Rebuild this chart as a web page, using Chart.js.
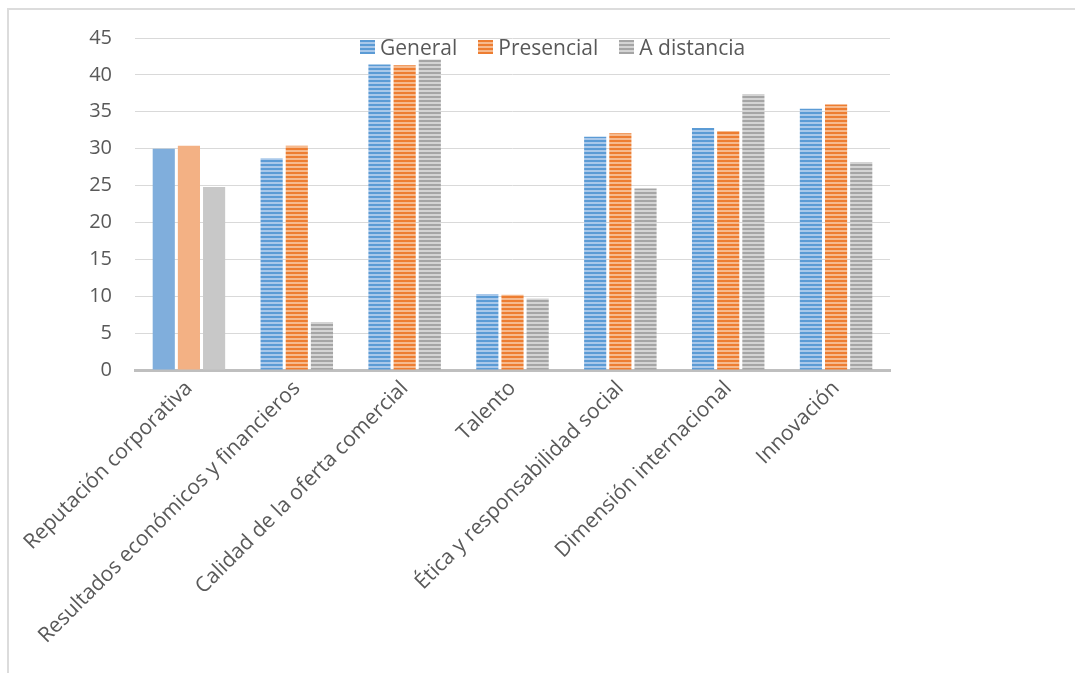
<!DOCTYPE html>
<html>
<head>
<meta charset="utf-8">
<script src="https://cdn.jsdelivr.net/npm/chart.js@4.4.1/dist/chart.umd.min.js"></script>
<style>
  html, body { margin: 0; padding: 0; background: #fff; overflow: hidden; }
  #marco { position: absolute; left: 7px; top: 8px; width: 1200px; height: 800px;
           border-left: 2px solid #dcdcdc; border-top: 2px solid #dcdcdc; }
  #caja { position: absolute; left: 0; top: 0; width: 1075px; height: 673px; }
  #leyenda { position: absolute; top: 33px; left: 360px; display: flex;
             font: 21px "Open Sans", sans-serif; color: #595959; white-space: nowrap; }
  #leyenda span.item { display: flex; align-items: center; margin-right: 21px; }
  #leyenda i { display: inline-block; width: 15px; height: 14px; margin-right: 5px; }
</style>
</head>
<body>
<div id="marco"></div>
<div id="caja"><canvas id="grafico" width="1075" height="673"></canvas></div>
<div id="leyenda"></div>
<script>
const categorias = [
  "Reputación corporativa",
  "Resultados económicos y financieros",
  "Calidad de la oferta comercial",
  "Talento",
  "Ética y responsabilidad social",
  "Dimensión internacional",
  "Innovación"
];
const general    = [30.0, 28.7, 41.4, 10.3, 31.6, 32.8, 35.4];
const presencial = [30.4, 30.4, 41.3, 10.2, 32.1, 32.4, 36.0];
const aDistancia = [24.8, 6.5, 42.1, 9.7, 24.6, 37.4, 28.2];
const ticksY = [0, 5, 10, 15, 20, 25, 30, 35, 40, 45];

const fuente = '"Open Sans", sans-serif';
const gris = "#595959";

// rayado horizontal para las barras
function rayas(oscuro, claro) {
  const c = document.createElement("canvas");
  c.width = 4; c.height = 4;
  const g = c.getContext("2d");
  g.fillStyle = claro;
  g.fillRect(0, 0, 4, 4);
  g.fillStyle = oscuro;
  g.fillRect(0, 0, 4, 2);
  return g.createPattern(c, "repeat");
}

// la primera categoría va en color liso, el resto rayado
function colores(liso, oscuro, claro, n) {
  const p = rayas(oscuro, claro);
  return Array.from({ length: n }, (_, i) => i === 0 ? liso : p);
}

const series = [
  { nombre: "General",     datos: general,    liso: "#80aedc", oscuro: "#5b9bd5", claro: "#a9c8ea" },
  { nombre: "Presencial",  datos: presencial, liso: "#f3b184", oscuro: "#ed7d31", claro: "#f6ba8e" },
  { nombre: "A distancia", datos: aDistancia, liso: "#c8c8c8", oscuro: "#a5a5a5", claro: "#d4d4d4" }
];

// leyenda superpuesta
const ley = document.getElementById("leyenda");
series.forEach(s => {
  const it = document.createElement("span");
  it.className = "item";
  const sq = document.createElement("i");
  sq.style.background = `repeating-linear-gradient(${s.oscuro} 0 2px, ${s.claro} 2px 4px)`;
  it.appendChild(sq);
  it.appendChild(document.createTextNode(s.nombre));
  ley.appendChild(it);
});

const ctx = document.getElementById("grafico").getContext("2d");
new Chart(ctx, {
  type: "bar",
  data: {
    labels: categorias,
    datasets: series.map(s => ({
      label: s.nombre,
      data: s.datos,
      backgroundColor: colores(s.liso, s.oscuro, s.claro, s.datos.length),
      borderWidth: 0,
      categoryPercentage: 0.7,
      barPercentage: 0.88
    }))
  },
  options: {
    responsive: false,
    animation: false,
    devicePixelRatio: 1,
    layout: { padding: { left: 0, top: 38, right: 185, bottom: 0 } },
    plugins: { legend: { display: false }, tooltip: { enabled: false } },
    scales: {
      x: {
        grid: { display: false, drawTicks: false },
        border: { display: true, color: "#bfbfbf", width: 3 },
        ticks: {
          color: gris, font: { family: fuente, size: 21 },
          minRotation: 45, maxRotation: 45, padding: 6, autoSkip: false
        },
        afterFit: sc => { sc.height = 673 - 370; }
      },
      y: {
        min: 0, max: 45,
        afterBuildTicks: sc => { sc.ticks = ticksY.map(v => ({ value: v })); },
        grid: { color: "#d9d9d9", lineWidth: 1, drawTicks: false },
        border: { display: false },
        ticks: { color: gris, font: { family: fuente, size: 20 }, padding: 23 },
        afterFit: sc => { sc.width = 135; }
      }
    }
  }
});
</script>
</body>
</html>
